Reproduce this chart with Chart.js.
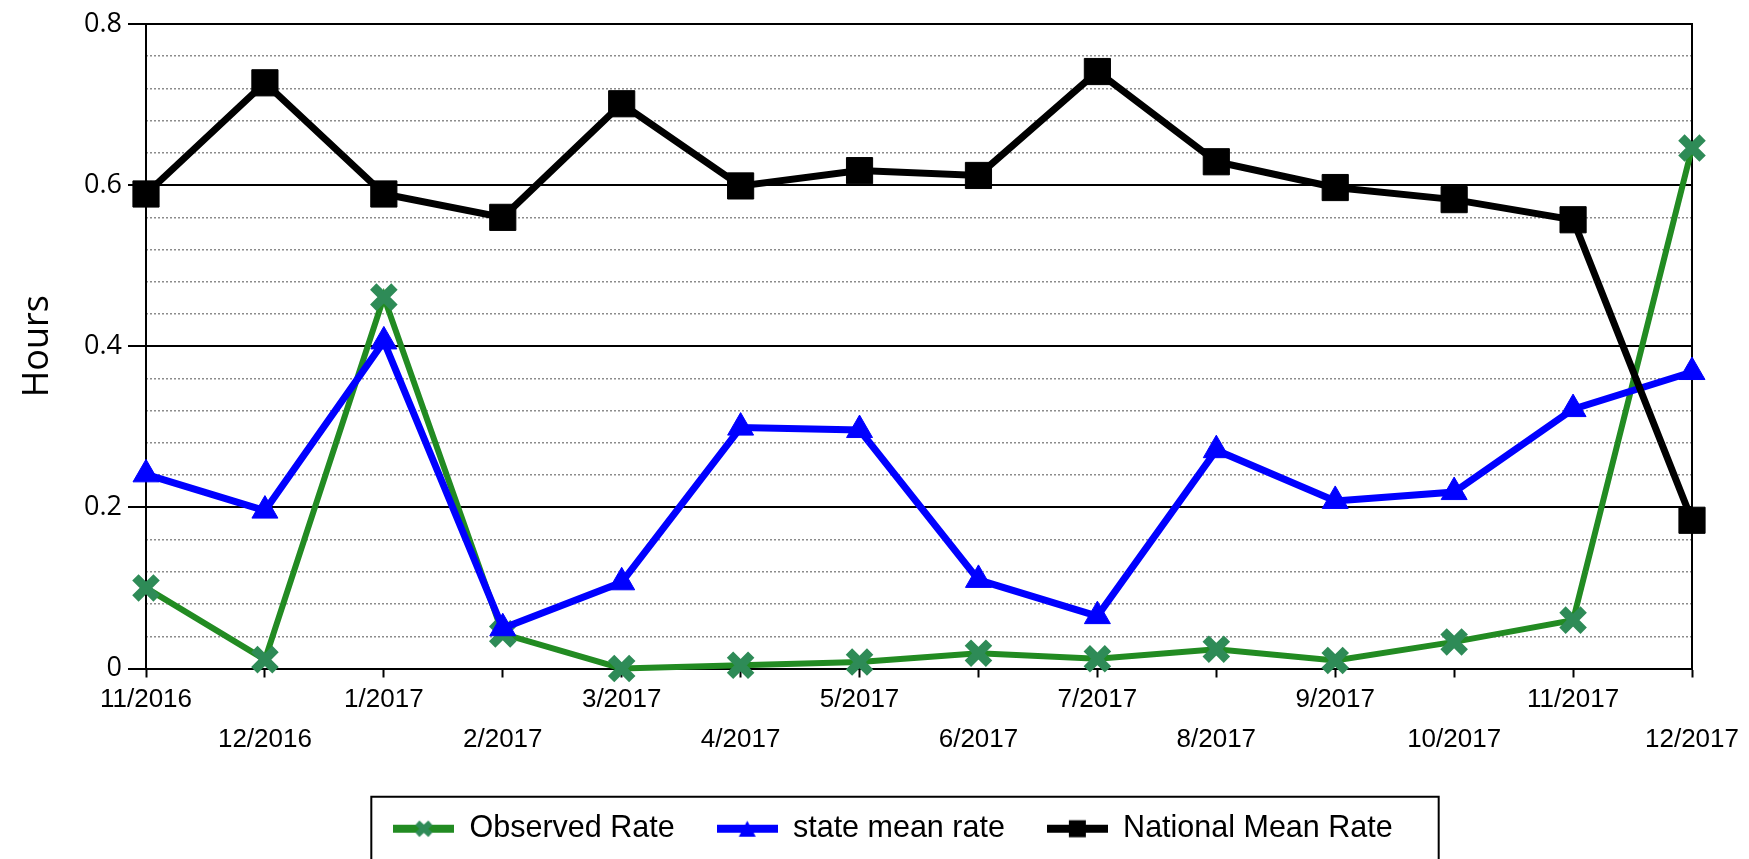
<!DOCTYPE html>
<html>
<head>
<meta charset="utf-8">
<title>Hours</title>
<script src="https://cdn.jsdelivr.net/npm/chart.js@4.4.1/dist/chart.umd.min.js"></script>
<style>
  body { margin: 0; background: #fff; }
  #wrap { width: 1749px; height: 859px; }
</style>
</head>
<body>
<div id="wrap"><canvas id="myChart" width="1749" height="859"></canvas></div>
<script>
var monthLabels = ['11/2016', '12/2016', '1/2017', '2/2017', '3/2017', '4/2017', '5/2017',
  '6/2017', '7/2017', '8/2017', '9/2017', '10/2017', '11/2017', '12/2017'];
var observedRate = [0.100, 0.011, 0.461, 0.043, 0.000, 0.004, 0.008, 0.019, 0.012, 0.024, 0.010, 0.033, 0.060, 0.646];
var stateMeanRate = [0.241, 0.196, 0.406, 0.050, 0.107, 0.299, 0.296, 0.110, 0.065, 0.271, 0.208, 0.219, 0.322, 0.368];
var nationalMeanRate = [0.589, 0.727, 0.589, 0.560, 0.701, 0.599, 0.618, 0.612, 0.741, 0.629, 0.597, 0.582, 0.557, 0.184];
var seriesNames = ['Observed Rate', 'state mean rate', 'National Mean Rate'];
var yTicks = [0, 0.2, 0.4, 0.6, 0.8];

// small legend swatch: a thick line with the marker in the middle
function makeIcon(lineColor, markColor, kind) {
  var c = document.createElement('canvas');
  c.width = 61;
  c.height = 20;
  var g = c.getContext('2d');
  g.fillStyle = lineColor;
  g.fillRect(0, 6, 61, 8);
  g.fillStyle = markColor;
  g.strokeStyle = markColor;
  if (kind == 'x') {
    g.lineWidth = 6;
    g.beginPath();
    g.moveTo(24, 4); g.lineTo(37, 16);
    g.moveTo(37, 4); g.lineTo(24, 16);
    g.stroke();
  } else if (kind == 'tri') {
    g.beginPath();
    g.moveTo(30.5, 2); g.lineTo(39, 18); g.lineTo(22, 18);
    g.closePath();
    g.fill();
  } else {
    g.fillRect(22, 1.5, 17, 17);
  }
  return c;
}

var legendIcons = [
  makeIcon('#228B22', '#2E8B57', 'x'),
  makeIcon('#0000FF', '#0000FF', 'tri'),
  makeIcon('#000000', '#000000', 'sq')
];

function isMajor(v) {
  for (var i = 0; i < yTicks.length; i++) {
    if (Math.abs(v - yTicks[i]) < 1e-6) return true;
  }
  return false;
}

// box round the legend
var legendFrame = {
  id: 'legendFrame',
  afterDraw: function(chart) {
    var hb = chart.legend.legendHitBoxes;
    if (!hb || !hb.length) return;
    var first = hb[0], last = hb[hb.length - 1];
    var mid = first.top + first.height / 2;
    var ctx = chart.ctx;
    ctx.save();
    ctx.strokeStyle = '#000';
    ctx.lineWidth = 2;
    ctx.strokeRect(first.left - 22, mid - 32, last.left + last.width + 46 - (first.left - 22), 64);
    ctx.restore();
  }
};

var ctx = document.getElementById('myChart');
var myChart = new Chart(ctx, {
  type: 'line',
  data: {
    labels: monthLabels,
    datasets: [
      {
        label: seriesNames[0],
        data: observedRate,
        borderColor: '#228B22',
        borderWidth: 6,
        pointStyle: 'crossRot',
        pointRadius: 15,
        pointBorderWidth: 9,
        pointBorderColor: '#2E8B57',
        pointBackgroundColor: '#2E8B57',
        tension: 0,
        clip: false,
        order: 3
      },
      {
        label: seriesNames[1],
        data: stateMeanRate,
        borderColor: '#0000FF',
        borderWidth: 7,
        pointStyle: 'triangle',
        pointRadius: 15,
        pointBorderWidth: 1,
        pointBorderColor: '#0000FF',
        pointBackgroundColor: '#0000FF',
        tension: 0,
        clip: false,
        order: 2
      },
      {
        label: seriesNames[2],
        data: nationalMeanRate,
        borderColor: '#000000',
        borderWidth: 7,
        pointStyle: 'rect',
        pointRadius: 18.5,
        pointBorderWidth: 1,
        pointBorderColor: '#000000',
        pointBackgroundColor: '#000000',
        tension: 0,
        clip: false,
        order: 1
      }
    ]
  },
  options: {
    responsive: false,
    animation: false,
    layout: { padding: { left: 37, right: 0, top: 21, bottom: 5 } },
    plugins: {
      tooltip: { enabled: false },
      legend: {
        position: 'bottom',
        labels: {
          usePointStyle: true,
          pointStyleWidth: 61,
          padding: 42,
          color: '#000',
          font: { family: 'Liberation Sans, Arial, sans-serif', size: 30.5 },
          sort: function(a, b) { return a.datasetIndex - b.datasetIndex; },
          generateLabels: function(chart) {
            var items = Chart.defaults.plugins.legend.labels.generateLabels(chart);
            items.forEach(function(it) { it.pointStyle = legendIcons[it.datasetIndex]; });
            return items;
          }
        }
      }
    },
    scales: {
      x: {
        type: 'category',
        offset: false,
        afterFit: function(s) { s.height = 103; },
        grid: { drawOnChartArea: false, drawTicks: true, tickLength: 9, tickWidth: 2, tickColor: '#000' },
        border: { display: true, color: '#000', width: 2 },
        ticks: {
          autoSkip: false,
          maxRotation: 0,
          minRotation: 0,
          padding: 2,
          color: '#000',
          font: { family: 'Liberation Sans, Arial, sans-serif', size: 26, lineHeight: 1.55 },
          callback: function(val, i) {
            var lab = this.getLabelForValue(val);
            return i % 2 == 1 ? ['', lab] : lab;
          }
        }
      },
      y: {
        position: 'left',
        min: 0,
        max: 0.8,
        afterFit: function(s) { s.width = 109; },
        grid: { color: '#000', lineWidth: 2, tickLength: 18, tickWidth: 2, tickColor: '#000' },
        border: { display: true, color: '#000', width: 2 },
        ticks: {
          stepSize: 0.2,
          padding: 6,
          color: '#000',
          font: { family: 'Open Sans, sans-serif', size: 27 }
        },
        title: {
          display: true,
          text: 'Hours',
          color: '#000',
          padding: { top: -21, bottom: 0 },
          font: { family: 'Open Sans, sans-serif', size: 36 }
        }
      },
      y2: {
        position: 'right',
        min: 0,
        max: 0.8,
        afterFit: function(s) { s.width = 57; },
        grid: {
          drawTicks: false,
          lineWidth: 1.5,
          color: function(c) { return (c.tick && isMajor(c.tick.value)) ? 'rgba(0,0,0,0)' : '#8c8c8c'; }
        },
        border: { display: true, color: '#000', width: 2, dash: [2, 2] },
        ticks: { display: false, stepSize: 0.04 }
      }
    }
  },
  plugins: [legendFrame]
});
</script>
</body>
</html>
